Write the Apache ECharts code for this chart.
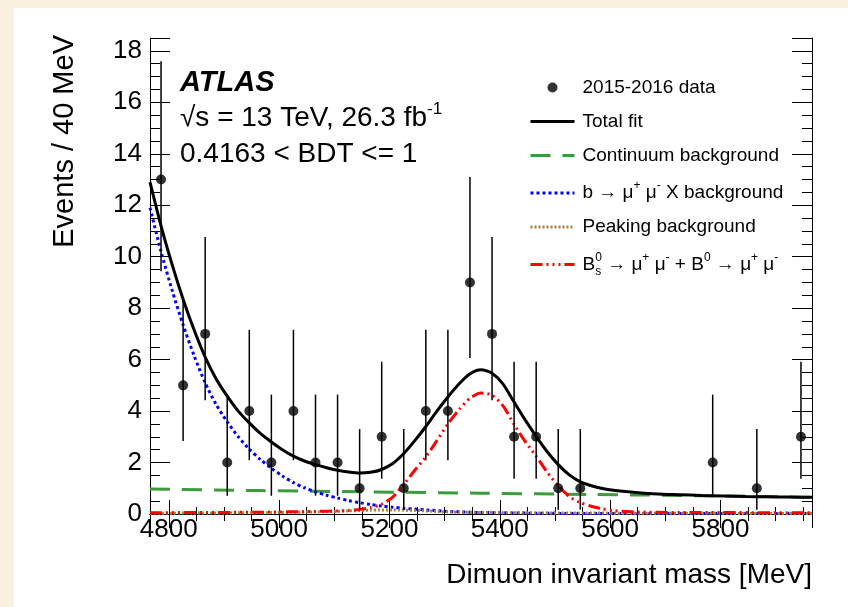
<!DOCTYPE html>
<html>
<head>
<meta charset="utf-8">
<script src="https://cdn.jsdelivr.net/npm/echarts@6/dist/echarts.min.js"></script>
<style>
  html, body { margin: 0; padding: 0; background: #faf0e1; }
  #chart { position: absolute; left: 14px; top: 8px; width: 834px; height: 599px; background: #ffffff; }
</style>
</head>
<body>
<div id="chart"></div>
<script>
// data points (bin centres, 40 MeV bins; empty bins are not drawn)
const dataMass = [4786, 4826, 4866, 4906, 4946, 4986, 5026, 5066, 5106, 5146, 5186, 5226,
  5266, 5306, 5346, 5386, 5426, 5466, 5506, 5546, 5786, 5866, 5946];
const dataCounts = [13, 5, 7, 2, 4, 2, 4, 2, 2, 1, 3, 1, 4, 4, 9, 7, 3, 3, 1, 1, 2, 1, 3];
const dataLow = [9.43, 2.84, 4.42, 0.71, 2.09, 0.71, 2.09, 0.71, 0.71, 0.17, 1.37, 0.17,
  2.09, 2.09, 6.06, 4.42, 1.37, 1.37, 0.17, 0.17, 0.71, 0.17, 1.37];
const dataHigh = [17.6, 8.38, 10.77, 4.64, 7.16, 4.64, 7.16, 4.64, 4.64, 3.3, 5.92, 3.3,
  7.16, 7.16, 13.1, 10.77, 5.92, 5.92, 3.3, 3.3, 4.64, 3.3, 5.92];

// total fit
const totalMass = [4766, 4786, 4806, 4826, 4846, 4866, 4886, 4906, 4926, 4946, 4966, 4986,
  5006, 5026, 5046, 5066, 5086, 5106, 5126, 5146, 5166, 5186, 5206, 5226, 5246, 5266, 5286,
  5306, 5326, 5346, 5366, 5386, 5406, 5426, 5446, 5466, 5486, 5506, 5526, 5546, 5566, 5586,
  5606, 5646, 5686, 5726, 5766, 5806, 5846, 5886, 5926, 5966];
const totalVals = [12.9, 11.2, 9.7, 8.35, 7.15, 6.1, 5.25, 4.58, 4.0, 3.54, 3.13, 2.8,
  2.5, 2.25, 2.06, 1.92, 1.8, 1.7, 1.63, 1.59, 1.62, 1.73, 1.96, 2.35, 2.85, 3.4, 4.0,
  4.55, 5.05, 5.45, 5.61, 5.47, 5.05, 4.35, 3.66, 3.02, 2.42, 1.92, 1.52, 1.25, 1.1, 0.99,
  0.92, 0.84, 0.78, 0.75, 0.72, 0.7, 0.68, 0.67, 0.66, 0.65];

// continuum background
const contMass = [4766, 4966, 5166, 5366, 5566, 5766, 5966];
const contVals = [0.97, 0.91, 0.86, 0.81, 0.76, 0.71, 0.65];

// b -> mu mu X background
const bxMass = [4766, 4786, 4806, 4826, 4846, 4866, 4886, 4906, 4926, 4946, 4966, 4986,
  5006, 5026, 5046, 5066, 5086, 5106, 5126, 5146, 5166, 5186, 5206, 5226, 5246, 5266,
  5306, 5366, 5466, 5566, 5766, 5966];
const bxVals = [11.9, 10.2, 8.7, 7.35, 6.15, 5.1, 4.25, 3.58, 3.0, 2.52, 2.12, 1.78,
  1.48, 1.22, 1.02, 0.86, 0.73, 0.62, 0.52, 0.44, 0.37, 0.31, 0.26, 0.22, 0.19, 0.16,
  0.1, 0.06, 0.03, 0.02, 0.02, 0.02];

// peaking background
const peakMass = [4766, 4966, 5066, 5126, 5166, 5206, 5246, 5286, 5326, 5406, 5506, 5666, 5966];
const peakVals = [0.03, 0.05, 0.08, 0.12, 0.15, 0.16, 0.14, 0.1, 0.07, 0.05, 0.04, 0.03, 0.02];

// Bs + B0 signal
const sigMass = [4766, 4966, 5066, 5106, 5126, 5146, 5166, 5186, 5206, 5226, 5246, 5266,
  5286, 5306, 5326, 5346, 5366, 5386, 5406, 5426, 5446, 5466, 5486, 5506, 5526, 5546,
  5566, 5586, 5606, 5646, 5726, 5966];
const sigVals = [0.05, 0.07, 0.1, 0.12, 0.14, 0.18, 0.25, 0.38, 0.66, 1.15, 1.7, 2.22,
  2.85, 3.5, 4.05, 4.5, 4.7, 4.62, 4.2, 3.48, 2.82, 2.25, 1.62, 1.1, 0.68, 0.44,
  0.3, 0.2, 0.13, 0.08, 0.06, 0.05];

const nData = '2015-2016 data';
const nTotal = 'Total fit';
const nCont = 'Continuum background';
const nBX = 'b → μ+ μ- X background';
const nPeak = 'Peaking background';
const nSig = 'Bs0 → μ+ μ- + B0 → μ+ μ-';

const legendText = {};
legendText[nData] = '{t|2015-2016 data}';
legendText[nTotal] = '{t|Total fit}';
legendText[nCont] = '{t|Continuum background}';
legendText[nBX] = '{t|b → μ}{sp|+}{t| μ}{sp|-}{t| X background}';
legendText[nPeak] = '{t|Peaking background}';
legendText[nSig] = '{t|B}{sb|s}{sp|0}{t| → μ}{sp|+}{t| μ}{sp|-}{t| + B}{sp|0}{t| → μ}{sp|+}{t| μ}{sp|-}';

const pairs = (xs, ys) => xs.map((x, i) => [x, ys[i]]);
const FONT = '"Liberation Sans", Arial, Helvetica, sans-serif';

const chart = echarts.init(document.getElementById('chart'), null, { renderer: 'canvas' });

const axisCommon = {
  axisLine: { show: true, lineStyle: { color: '#000', width: 1 } },
  splitLine: { show: false },
};

const lineSeries = (name, xs, ys, color, width, dash, z) => ({
  name: name,
  type: 'line',
  data: pairs(xs, ys),
  smooth: 0.25,
  symbol: 'none',
  z: z,
  lineStyle: { color: color, width: width, type: dash },
  itemStyle: { color: color },
});

// legend entries for the fit curves: line only, no marker
const lineKey = (name) => ({ name: name, itemStyle: { opacity: 0 } });

const option = {
  animation: false,
  grid: { left: 136, top: 30, right: 36, bottom: 93 },
  xAxis: [
    {
      ...axisCommon,
      type: 'value',
      min: 4766,
      max: 5966,
      splitNumber: 6,
      axisTick: { show: true, inside: true, length: 14, lineStyle: { color: '#000' } },
      minorTick: { show: true, splitNumber: 4, length: 7, lineStyle: { color: '#000' } },
      axisLabel: {
        show: true, showMinLabel: false, showMaxLabel: false,
        color: '#000', fontSize: 26, fontFamily: FONT, margin: 3,
        formatter: (v) => String(v),
      },
    },
    {
      ...axisCommon,
      type: 'value',
      position: 'top',
      min: 4766,
      max: 5966,
      splitNumber: 6,
      axisTick: { show: true, inside: true, length: 14, lineStyle: { color: '#000' } },
      minorTick: { show: true, splitNumber: 4, length: 7, lineStyle: { color: '#000' } },
      axisLabel: { show: false },
    },
  ],
  yAxis: [
    {
      ...axisCommon,
      type: 'value',
      min: 0,
      max: 18.5,
      interval: 2,
      axisTick: { show: true, inside: true, length: 20, lineStyle: { color: '#000' } },
      minorTick: { show: true, splitNumber: 4, length: 10, lineStyle: { color: '#000' } },
      axisLabel: {
        show: true, showMaxLabel: false,
        color: '#000', fontSize: 26, fontFamily: FONT, margin: 8,
      },
    },
    {
      ...axisCommon,
      type: 'value',
      position: 'right',
      min: 0,
      max: 18.5,
      interval: 2,
      axisTick: { show: true, inside: true, length: 20, lineStyle: { color: '#000' } },
      minorTick: { show: true, splitNumber: 4, length: 10, lineStyle: { color: '#000' } },
      axisLabel: { show: false },
    },
  ],
  legend: {
    orient: 'vertical',
    left: 515,
    top: 70,
    padding: 0,
    itemWidth: 44,
    itemHeight: 10,
    itemGap: 15,
    selectedMode: false,
    data: [nData, lineKey(nTotal), lineKey(nCont), lineKey(nBX), lineKey(nPeak), lineKey(nSig)],
    lineStyle: { width: 3 },
    formatter: (name) => legendText[name],
    textStyle: {
      color: '#000',
      fontFamily: FONT,
      fontSize: 19,
      padding: [0, 0, 0, 3],
      rich: {
        t: { fontSize: 19, fontFamily: FONT, color: '#000', lineHeight: 26 },
        sp: { fontSize: 12, fontFamily: FONT, color: '#000', lineHeight: 26, verticalAlign: 'top' },
        sb: { fontSize: 12, fontFamily: FONT, color: '#000', lineHeight: 26, verticalAlign: 'bottom', width: 0 },
      },
    },
  },
  graphic: [
    {
      type: 'text', x: 166, y: 75,
      style: { text: 'ATLAS', fill: '#000', font: 'italic bold 29px ' + FONT, verticalAlign: 'middle' },
    },
    {
      type: 'text', x: 166, y: 110,
      style: {
        text: '{n|√s = 13 TeV, 26.3 fb}{s|-1}',
        verticalAlign: 'middle',
        rich: {
          n: { fontSize: 28, fontFamily: FONT, fill: '#000', color: '#000', lineHeight: 34 },
          s: { fontSize: 17, fontFamily: FONT, fill: '#000', color: '#000', lineHeight: 34, verticalAlign: 'top' },
        },
      },
    },
    {
      type: 'text', x: 166, y: 146,
      style: { text: '0.4163 < BDT <= 1', fill: '#000', font: '28px ' + FONT, verticalAlign: 'middle' },
    },
    {
      type: 'text', x: 51, y: 27, rotation: Math.PI / 2,
      style: { text: 'Events / 40 MeV', fill: '#000', font: '29px ' + FONT, align: 'right', verticalAlign: 'middle' },
    },
    {
      type: 'text', x: 798, y: 567,
      style: { text: 'Dimuon invariant mass [MeV]', fill: '#000', font: '28px ' + FONT, align: 'right', verticalAlign: 'middle' },
    },
  ],
  series: [
    lineSeries(nCont, contMass, contVals, '#3c9c3c', 3, [20, 12], 2),
    lineSeries(nBX, bxMass, bxVals, '#0000ff', 3, [3, 3], 3),
    lineSeries(nPeak, peakMass, peakVals, '#a9803a', 3, [2, 2], 3),
    lineSeries(nSig, sigMass, sigVals, '#ff0000', 3, [12, 4, 2, 4, 2, 4, 2, 4], 4),
    lineSeries(nTotal, totalMass, totalVals, '#000000', 3, 'solid', 5),
    {
      name: 'errors',
      type: 'custom',
      z: 6,
      data: dataMass.map((m, i) => [m, dataLow[i], dataHigh[i]]),
      encode: { x: 0, y: [1, 2] },
      renderItem: (params, api) => {
        const x = api.value(0);
        const lo = api.coord([x, api.value(1)]);
        const hi = api.coord([x, api.value(2)]);
        return {
          type: 'line',
          shape: { x1: lo[0], y1: lo[1], x2: hi[0], y2: hi[1] },
          style: { stroke: '#000', lineWidth: 1.5 },
        };
      },
    },
    {
      name: nData,
      type: 'scatter',
      z: 7,
      symbol: 'circle',
      symbolSize: 10,
      itemStyle: { color: '#000' },
      data: pairs(dataMass, dataCounts),
    },
  ],
};

chart.setOption(option);
</script>
</body>
</html>
